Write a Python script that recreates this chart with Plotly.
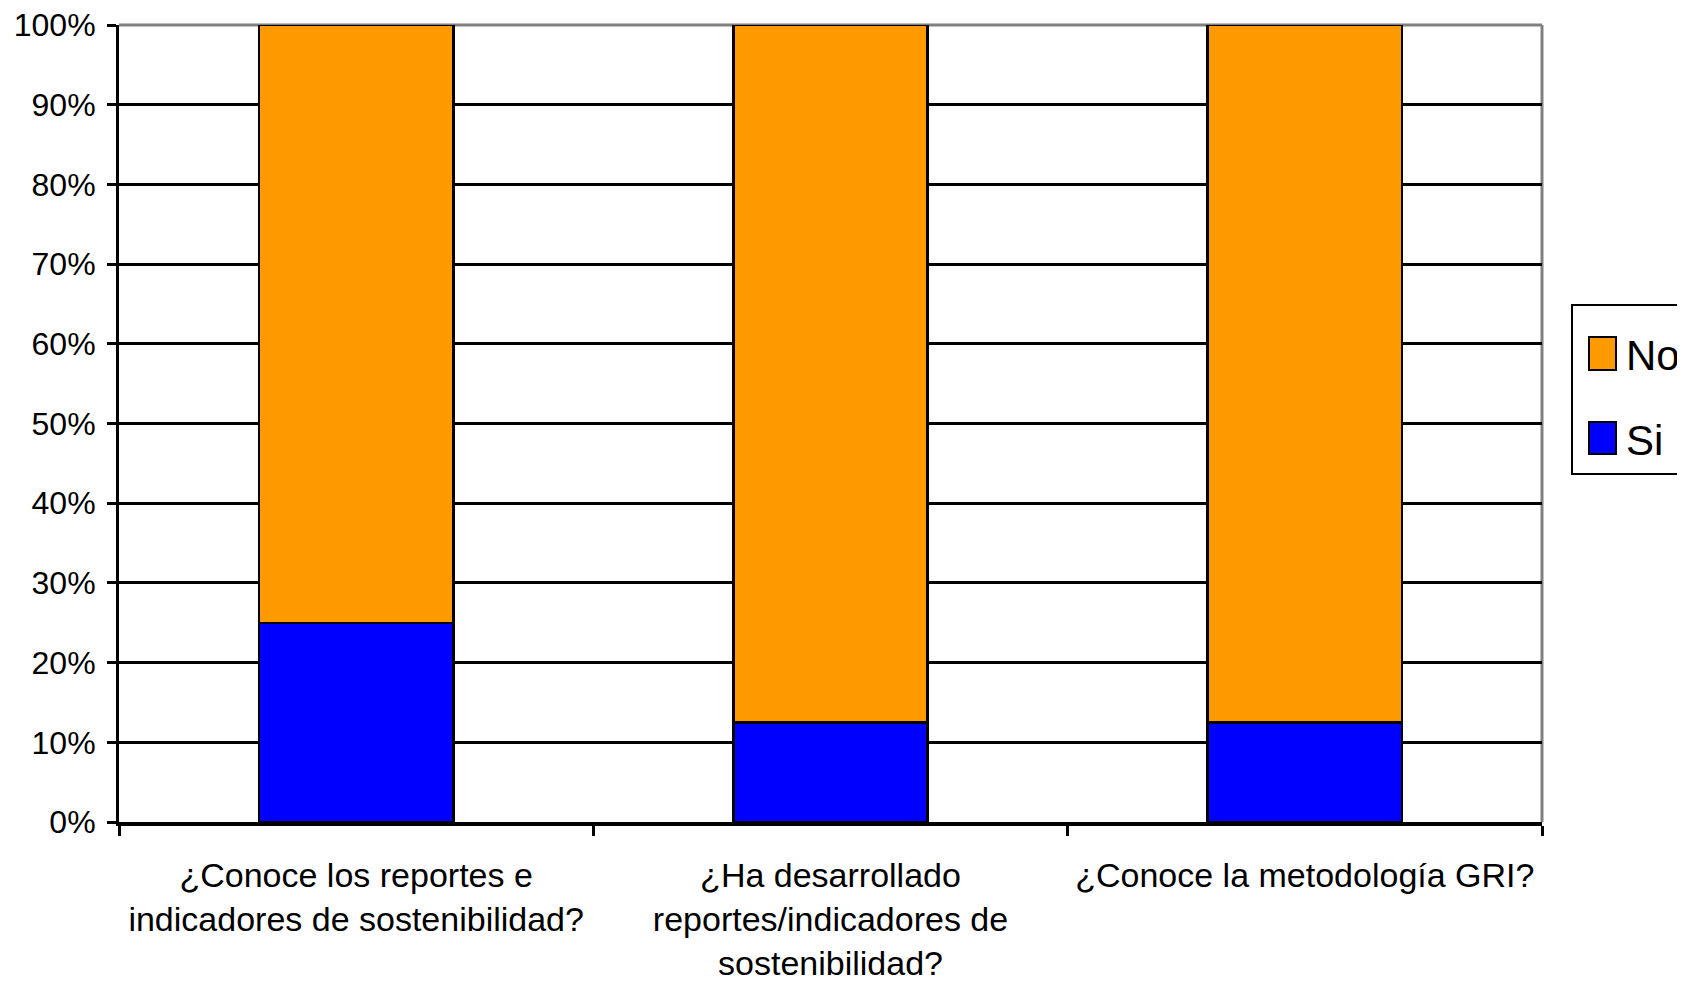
import plotly.graph_objects as go

categories = [
    "¿Conoce los reportes e<br>indicadores de sostenibilidad?",
    "¿Ha desarrollado<br>reportes/indicadores de<br>sostenibilidad?",
    "¿Conoce la metodología GRI?",
]
si_values = [25.0, 12.5, 12.5]
no_values = [75.0, 87.5, 87.5]
series_names = ["Si", "No"]
y_tick_vals = [0, 10, 20, 30, 40, 50, 60, 70, 80, 90, 100]
y_tick_text = [f"{v}%" for v in y_tick_vals]

FONT = "Liberation Sans Narrow, Arial Narrow, Liberation Sans, Arial, sans-serif"
BLUE = "#0000FF"
ORANGE = "#FF9900"

fig = go.Figure()
fig.add_trace(go.Bar(x=categories, y=si_values, name=series_names[0],
                     marker=dict(color=BLUE, line=dict(color="black", width=2.5)),
                     width=0.41, hoverinfo="skip"))
fig.add_trace(go.Bar(x=categories, y=no_values, name=series_names[1],
                     marker=dict(color=ORANGE, line=dict(color="black", width=2.5)),
                     width=0.41, hoverinfo="skip"))

# page offset (body margin) compensation
OFF = 8
W, H = 1685 - OFF, 1001 - OFF - 14
L, T = 119 - OFF, 25 - OFF
pw, ph = 1423, 797
R, B = W - L - pw, H - T - ph

def px(x):
    return (x - OFF - L) / pw

def py(y):
    return (T + ph - (y - OFF)) / ph

shapes = [
    dict(type="line", xref="paper", yref="paper", x0=0, x1=1, y0=1, y1=1,
         line=dict(color="#808080", width=3), layer="below"),
    dict(type="line", xref="paper", yref="paper", x0=1, x1=1, y0=0, y1=1,
         line=dict(color="#808080", width=3), layer="below"),
    dict(type="rect", xref="paper", yref="paper", x0=px(1572), x1=px(1720),
         y0=py(474), y1=py(305), line=dict(color="black", width=2),
         fillcolor="white", layer="above"),
    dict(type="rect", xref="paper", yref="paper", x0=px(1589), x1=px(1616),
         y0=py(370), y1=py(337), line=dict(color="black", width=2),
         fillcolor=ORANGE, layer="above"),
    dict(type="rect", xref="paper", yref="paper", x0=px(1589), x1=px(1616),
         y0=py(454), y1=py(422), line=dict(color="black", width=2),
         fillcolor=BLUE, layer="above"),
]
annotations = [
    dict(xref="paper", yref="paper", x=px(1624), y=py(355), text=series_names[1],
         showarrow=False, xanchor="left", yanchor="middle",
         font=dict(family=FONT, size=42, color="black")),
    dict(xref="paper", yref="paper", x=px(1624), y=py(440), text=series_names[0],
         showarrow=False, xanchor="left", yanchor="middle",
         font=dict(family=FONT, size=42, color="black")),
]

fig.update_layout(
    width=W, height=H,
    barmode="stack",
    showlegend=False,
    plot_bgcolor="white", paper_bgcolor="white",
    margin=dict(l=L, r=R, t=T, b=B, pad=0),
    font=dict(family=FONT, size=33, color="black"),
    shapes=shapes,
    annotations=annotations,
)
fig.update_xaxes(
    showline=True, linecolor="black", linewidth=4,
    ticks="outside", tickson="boundaries", ticklen=10, tickwidth=2.5, tickcolor="black",
    showgrid=False, tickfont=dict(size=34), ticklabelstandoff=20,
    tickangle=0, automargin=False, ticklabeloverflow="allow",
)
fig.update_yaxes(
    range=[0, 100], tickvals=y_tick_vals, ticktext=y_tick_text,
    showline=True, linecolor="black", linewidth=3,
    ticks="outside", ticklen=9, tickwidth=3, tickcolor="black",
    showgrid=True, gridcolor="black", gridwidth=3, zeroline=False,
    tickfont=dict(size=32), ticklabelstandoff=5, automargin=False,
    ticklabeloverflow="allow",
)

fig.write_html("out.html")
